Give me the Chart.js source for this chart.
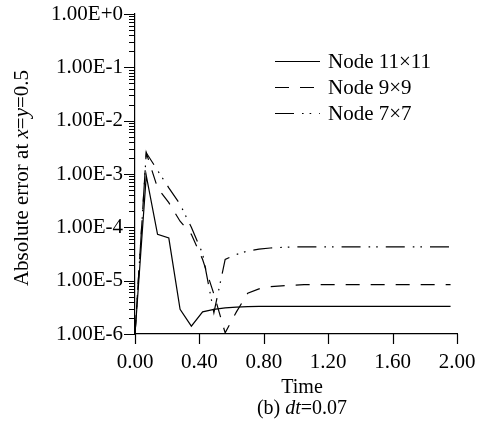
<!DOCTYPE html>
<html>
<head>
<meta charset="utf-8">
<style>
  html, body { margin: 0; padding: 0; background: #fff; }
  #wrap { width: 480px; height: 428px; }
</style>
<script src="https://cdn.jsdelivr.net/npm/chart.js@4.4.1/dist/chart.umd.min.js"></script>
</head>
<body>
<div id="wrap"><canvas id="c" width="480" height="428"></canvas></div>
<script>
// ---- data ----
const times = [0.00,0.07,0.14,0.21,0.28,0.35,0.42,0.49,0.56,0.63,0.70,0.77,0.84,0.91,0.98,1.05,1.12,1.19,1.26,1.33,1.40,1.47,1.54,1.61,1.68,1.75,1.82,1.89,1.96];

const node11 = [1.0e-6,9.3e-4,7.4e-5,6.3e-5,2.9e-6,1.4e-6,2.6e-6,2.9e-6,3.1e-6,3.2e-6,3.25e-6,
  3.3e-6,3.3e-6,3.3e-6,3.3e-6,3.3e-6,3.3e-6,3.3e-6,3.3e-6,3.3e-6,3.3e-6,3.3e-6,3.3e-6,3.3e-6,3.3e-6,3.3e-6,3.3e-6,3.3e-6,3.3e-6];

const node9 = [1.0e-6,2.5e-3,5.5e-4,2.9e-4,1.3e-4,7.4e-5,2.5e-5,5.6e-6,1.05e-6,2.6e-6,5.8e-6,7.0e-6,7.7e-6,8.0e-6,8.2e-6,
  8.4e-6,8.4e-6,8.4e-6,8.4e-6,8.4e-6,8.4e-6,8.4e-6,8.4e-6,8.4e-6,8.4e-6,8.4e-6,8.4e-6,8.4e-6,8.4e-6];

const node7 = [1.0e-6,2.5e-3,1.17e-3,5.5e-4,2.7e-4,1.0e-4,3.2e-5,2.5e-6,2.5e-5,3.1e-5,3.6e-5,3.9e-5,4.1e-5,4.2e-5,
  4.3e-5,4.3e-5,4.3e-5,4.3e-5,4.3e-5,4.3e-5,4.3e-5,4.3e-5,4.3e-5,4.3e-5,4.3e-5,4.3e-5,4.3e-5,4.3e-5,4.3e-5];

const seriesLabels = ["Node 11\u00D711", "Node 9\u00D79", "Node 7\u00D77"];

const xTickValues = [0, 0.4, 0.8, 1.2, 1.6, 2.0];
const xTickLabels = ["0.00", "0.40", "0.80", "1.20", "1.60", "2.00"];
const yTickValues = [1e-6, 1e-5, 1e-4, 1e-3, 1e-2, 1e-1, 1];
const yTickLabels = ["1.00E-6", "1.00E-5", "1.00E-4", "1.00E-3", "1.00E-2", "1.00E-1", "1.00E+0"];

// ---- chart ----
const FONT = '"Liberation Serif", "Times New Roman", Times, serif';
const toPts = (vals) => times.map((t, i) => ({ x: t, y: vals[i] }));

const dashes = [[], [14, 11], [19, 8, 1.6, 6, 1.6, 8]];

const datasets = [node11, node9, node7].map((vals, i) => ({
  label: seriesLabels[i],
  data: toPts(vals),
  borderColor: '#000',
  borderWidth: 1.2,
  borderDash: dashes[i],
  pointRadius: 0,
  tension: 0,
  fill: false
}));

function drawParts(ctx, parts, cx, cy, size) {
  let total = 0;
  const widths = parts.map(([t, it]) => {
    ctx.font = (it ? 'italic ' : '') + size + 'px ' + FONT;
    const w = ctx.measureText(t).width;
    total += w;
    return w;
  });
  let x = cx - total / 2;
  parts.forEach(([t, it], i) => {
    ctx.font = (it ? 'italic ' : '') + size + 'px ' + FONT;
    ctx.fillText(t, x, cy);
    x += widths[i];
  });
}

const decorPlugin = {
  id: 'decor',
  afterDraw(chart) {
    const ctx = chart.ctx;
    const xs = chart.scales.x, ys = chart.scales.y;
    const area = chart.chartArea;
    ctx.save();
    ctx.strokeStyle = '#000';
    ctx.fillStyle = '#000';
    ctx.lineWidth = 1.2;
    ctx.setLineDash([]);
    // x ticks (downward)
    xTickValues.forEach(v => {
      const px = Math.round(xs.getPixelForValue(v)) + 0.5;
      ctx.beginPath();
      ctx.moveTo(px, area.bottom);
      ctx.lineTo(px, area.bottom + 10);
      ctx.stroke();
    });
    // y major ticks (outward, left)
    ctx.lineWidth = 1;
    yTickValues.forEach(v => {
      const py = Math.round(ys.getPixelForValue(v)) + 0.5;
      ctx.beginPath();
      ctx.moveTo(area.left - 11, py);
      ctx.lineTo(area.left, py);
      ctx.stroke();
    });
    // y minor ticks
    for (let i = 0; i < yTickValues.length - 1; i++) {
      for (let k = 2; k <= 9; k++) {
        const v = yTickValues[i] * k;
        const py = Math.round(ys.getPixelForValue(v)) + 0.5;
        ctx.beginPath();
        ctx.moveTo(area.left - 6, py);
        ctx.lineTo(area.left, py);
        ctx.stroke();
      }
    }
    // legend
    ctx.lineWidth = 1.2;
    chart.data.datasets.forEach((ds, i) => {
      const y = 61 + 26 * i + 0.5;
      ctx.setLineDash(ds.borderDash || []);
      ctx.beginPath();
      ctx.moveTo(275, y);
      ctx.lineTo(320, y);
      ctx.stroke();
      ctx.setLineDash([]);
      ctx.font = '21px ' + FONT;
      ctx.textAlign = 'left';
      ctx.textBaseline = 'middle';
      ctx.fillText(ds.label, 328, y + 1);
    });
    // axis titles
    ctx.textAlign = 'left';
    ctx.textBaseline = 'middle';
    drawParts(ctx, [['Time', false]], 302, 388, 20);
    drawParts(ctx, [['(b) ', false], ['dt', true], ['=0.07', false]], 302, 409, 20);
    ctx.save();
    ctx.translate(22, 178);
    ctx.rotate(-Math.PI / 2);
    drawParts(ctx, [['Absolute error at ', false], ['x', true], ['=', false], ['y', true], ['=0.5', false]], 0, 0, 21);
    ctx.restore();
    ctx.restore();
  }
};

function zeroPad(s) {
  s.paddingTop = 0; s.paddingBottom = 0; s.paddingLeft = 0; s.paddingRight = 0;
}

new Chart(document.getElementById('c'), {
  type: 'line',
  data: { datasets },
  options: {
    responsive: false,
    animation: false,
    devicePixelRatio: 1,
    layout: { padding: { top: 14, right: 23, left: 0, bottom: 0 } },
    plugins: { legend: { display: false }, tooltip: { enabled: false } },
    scales: {
      x: {
        type: 'linear',
        min: 0, max: 2,
        afterBuildTicks: (s) => { s.ticks = xTickValues.map(v => ({ value: v })); },
        afterFit: (s) => { s.height = 94; zeroPad(s); },
        grid: { display: true, drawOnChartArea: false, drawTicks: false },
        border: { display: true, color: '#000', width: 1.2 },
        ticks: {
          autoSkip: false, maxRotation: 0, padding: 16, color: '#000',
          font: { family: FONT, size: 21 },
          callback: (v, i) => xTickLabels[i]
        }
      },
      y: {
        type: 'logarithmic',
        min: 1e-6, max: 1,
        afterBuildTicks: (s) => { s.ticks = yTickValues.map(v => ({ value: v })); },
        afterFit: (s) => { s.width = 135; zeroPad(s); },
        grid: { display: true, drawOnChartArea: false, drawTicks: false },
        border: { display: true, color: '#000', width: 1.2 },
        ticks: {
          autoSkip: false, padding: 12, color: '#000',
          font: { family: FONT, size: 21 },
          callback: (v, i) => yTickLabels[i]
        }
      }
    }
  },
  plugins: [decorPlugin]
});
</script>
</body>
</html>
